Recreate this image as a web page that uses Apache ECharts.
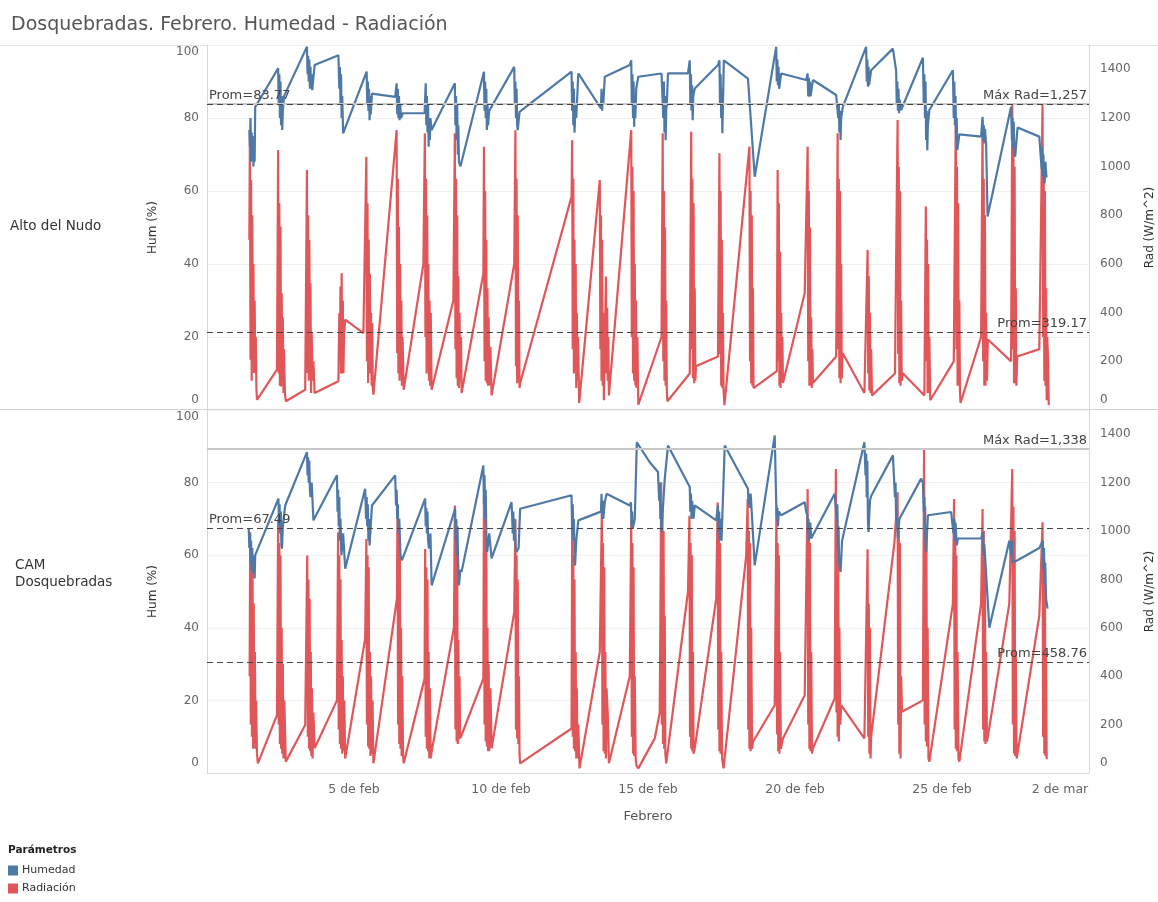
<!DOCTYPE html>
<html>
<head>
<meta charset="utf-8">
<script src="https://cdn.jsdelivr.net/npm/echarts@6/dist/echarts.min.js"></script>
<style>
html,body{margin:0;padding:0;background:#fff;}
#chart{width:1158px;height:902px;}
</style>
</head>
<body>
<div id="chart"></div>
<script>
// x values: days counted from 31 Jan 00:00 (1 = 1 Feb, 30 = 2 Mar)
const tickDays = [5, 10, 15, 20, 25, 30];
const tickNames = ['5 de feb', '10 de feb', '15 de feb', '20 de feb', '25 de feb', '2 de mar'];
const panels = ['Alto del Nudo', 'CAM\nDosquebradas'];

// Alto del Nudo - Radiación (W/m^2)
const altoRad = [
[1.44,700],[1.46,1137],[1.48,207],[1.50,945],[1.52,120],[1.54,800],[1.56,289],[1.58,600],[1.60,152],[1.62,450],[1.64,207],[1.66,300],[1.68,90],[1.70,42],
[2.38,166],[2.42,1068],[2.44,150],[2.46,850],[2.48,100],[2.50,754],[2.52,97],[2.54,480],[2.56,200],[2.58,380],[2.60,70],[2.62,250],[2.65,70],[2.68,36],
[3.34,83],[3.40,986],[3.42,152],[3.44,800],[3.46,120],[3.48,699],[3.50,300],[3.52,520],[3.54,70],[3.56,316],[3.59,120],[3.62,200],[3.66,70],
[4.47,118],[4.50,398],[4.52,200],[4.54,508],[4.56,150],[4.58,562],[4.60,150],[4.62,450],[4.64,152],[4.66,300],[4.70,371],
[5.32,316],[5.42,1041],[5.44,200],[5.46,850],[5.48,111],[5.50,700],[5.52,150],[5.54,560],[5.56,152],[5.58,400],[5.60,100],[5.62,357],[5.64,90],[5.66,63],
[6.45,1150],[6.47,234],[6.49,950],[6.51,150],[6.53,754],[6.55,120],[6.57,600],[6.59,152],[6.61,450],[6.63,100],[6.65,300],[6.67,200],[6.69,83],
[7.36,600],[7.41,1137],[7.43,300],[7.45,950],[7.47,150],[7.49,800],[7.51,180],[7.53,600],[7.55,120],[7.57,450],[7.59,100],[7.61,400],[7.64,83],
[8.38,450],[8.43,1137],[8.45,250],[8.47,950],[8.49,130],[8.51,800],[8.53,100],[8.55,550],[8.57,90],[8.59,400],[8.61,120],[8.64,300],[8.66,70],
[9.40,560],[9.42,1082],[9.44,200],[9.46,900],[9.48,120],[9.50,700],[9.52,110],[9.54,500],[9.56,100],[9.58,380],[9.60,100],[9.64,260],[9.68,60],
[10.45,600],[10.49,1150],[10.51,180],[10.53,950],[10.55,110],[10.57,800],[10.59,130],[10.61,450],[10.63,90],[10.65,110],
[12.40,877],[12.42,1109],[12.44,250],[12.46,950],[12.48,150],[12.50,700],[12.52,160],[12.54,600],[12.56,90],[12.58,400],[12.60,120],[12.62,300],[12.66,29],
[13.36,945],[13.38,250],[13.40,800],[13.42,120],[13.44,700],[13.46,100],[13.48,400],[13.50,40],
[13.57,549],[13.59,150],[13.61,420],[13.63,120],[13.65,300],[13.67,60],
[14.43,1150],[14.45,300],[14.47,1000],[14.49,150],[14.51,900],[14.53,120],[14.55,600],[14.57,100],[14.59,450],[14.61,90],[14.64,300],[14.67,22],
[15.46,300],[15.50,1137],[15.52,200],[15.54,900],[15.56,120],[15.58,750],[15.60,100],[15.62,450],[15.64,80],[15.66,36],
[16.42,150],[16.47,1143],[16.49,250],[16.51,950],[16.53,130],[16.55,850],[16.57,110],[16.59,500],[16.61,120],[16.63,180],
[17.38,220],[17.43,1055],[17.45,230],[17.47,900],[17.49,100],[17.51,700],[17.53,90],[17.55,400],[17.57,80],[17.60,20],
[18.45,1082],[18.47,200],[18.49,900],[18.51,110],[18.53,800],[18.55,100],[18.57,500],[18.59,90],[18.62,83],
[19.38,160],[19.41,986],[19.43,200],[19.45,850],[19.47,100],[19.49,650],[19.51,90],[19.53,400],[19.55,120],[19.57,300],[19.59,111],
[20.33,480],[20.43,1082],[20.45,200],[20.47,900],[20.49,100],[20.51,750],[20.53,100],[20.55,380],[20.57,90],[20.59,250],[20.61,111],
[21.40,220],[21.45,1137],[21.47,250],[21.49,950],[21.51,130],[21.53,900],[21.55,110],[21.57,600],[21.59,130],[21.62,234],
[22.36,70],[22.47,658],[22.49,150],[22.51,550],[22.53,80],[22.55,400],[22.57,70],[22.59,250],[22.62,60],
[23.40,150],[23.49,1192],[23.51,230],[23.53,1000],[23.55,110],[23.57,900],[23.59,100],[23.61,450],[23.63,120],[23.66,152],
[24.40,60],[24.45,836],[24.47,200],[24.49,700],[24.51,70],[24.53,600],[24.55,70],[24.57,300],[24.60,40],
[25.40,200],[25.47,1205],[25.49,250],[25.51,1000],[25.53,100],[25.55,850],[25.57,100],[25.59,450],[25.61,80],[25.63,29],
[26.33,300],[26.38,1192],[26.40,200],[26.42,950],[26.44,100],[26.46,800],[26.48,100],[26.50,400],[26.53,120],[26.56,290],
[27.35,200],[27.39,1257],[27.41,250],[27.43,1100],[27.45,110],[27.47,1000],[27.49,110],[27.51,500],[27.53,100],[27.56,220],
[28.31,250],[28.42,1257],[28.44,300],[28.46,1000],[28.48,120],[28.50,900],[28.52,100],[28.54,500],[28.56,40],[28.58,300],[28.61,200],[28.63,20]
];

// Alto del Nudo - Humedad (%)
const altoHum = [
[1.44,76.7],[1.46,72],[1.48,80],[1.50,68],[1.52,76],[1.54,70],[1.56,75],[1.58,66.7],[1.60,72],[1.62,68],[1.64,83],
[2.42,93.6],[2.44,84],[2.46,92],[2.48,80],[2.50,90],[2.52,78],[2.54,86],[2.56,76.7],[2.58,82],[2.62,86],
[3.40,99.5],[3.42,92],[3.44,97],[3.46,90],[3.48,96],[3.50,88],[3.52,94],[3.54,88],[3.56,92],[3.58,87.6],[3.66,94.5],
[4.47,97.2],[4.50,88],[4.52,94],[4.54,84],[4.56,92],[4.58,80],[4.60,86],[4.63,75.8],
[5.43,92.7],[5.45,84],[5.47,90],[5.49,82],[5.51,88],[5.53,79.4],[5.55,86],[5.57,81],[5.61,86.7],
[6.40,85.8],[6.45,89.5],[6.47,81],[6.49,88],[6.51,80],[6.53,86],[6.55,79.4],[6.57,84],[6.60,80],[6.66,81.3],
[7.40,81.3],[7.44,89.5],[7.46,78],[7.48,86],[7.50,76],[7.52,84],[7.54,72.1],[7.56,80],[7.58,74],[7.60,80],[7.64,76.7],
[8.43,89.5],[8.45,78],[8.47,86],[8.49,74],[8.51,84],[8.53,70],[8.55,78],[8.57,68],[8.62,66.7],
[9.42,92.7],[9.44,82],[9.46,90],[9.48,80],[9.50,88],[9.52,76.7],[9.54,84],[9.56,78],[9.60,82],
[10.45,94.0],[10.47,84],[10.49,90],[10.51,80],[10.53,88],[10.55,78],[10.57,76.7],[10.63,81.7],
[12.40,92.7],[12.42,82],[12.44,90],[12.46,78],[12.48,88],[12.50,76],[12.52,75.8],[12.54,84],[12.56,80],[12.63,92.2],
[13.40,82.6],[13.42,88],[13.44,82],[13.46,86],[13.48,84],[13.53,91.3],
[14.38,94.5],[14.43,95.8],[14.45,84],[14.47,92],[14.49,80],[14.51,90],[14.53,77.6],[14.55,86],[14.57,80],[14.60,88],[14.67,91.3],
[15.46,92.2],[15.50,92.2],[15.52,80],[15.54,90],[15.56,76],[15.58,86],[15.60,73.9],[15.62,82],[15.64,84],[15.68,92.2],
[16.36,92.2],[16.42,95.8],[16.44,84],[16.46,92],[16.48,82],[16.50,89],[16.52,79.4],[16.54,86],[16.59,88.1],
[17.38,94.5],[17.43,95.8],[17.45,84],[17.47,92],[17.49,80],[17.51,88],[17.53,75.8],[17.55,84],[17.58,95.8],
[18.40,90.8],[18.63,63.9],
[19.36,99.5],[19.38,90],[19.40,96],[19.42,89],[19.44,94],[19.46,88],[19.48,87.6],[19.53,92.2],
[20.38,90.4],[20.43,92.2],[20.45,86],[20.47,91],[20.49,85.8],[20.51,90],[20.53,86],[20.61,90.4],
[21.40,86.3],[21.45,85.8],[21.47,80],[21.49,84],[21.51,76],[21.53,82],[21.55,74.0],[21.57,80],[21.63,83.1],
[22.42,99.5],[22.44,90],[22.46,96],[22.48,88.6],[22.50,94],[22.52,89],[22.59,93.1],
[23.33,99.0],[23.44,93],[23.46,84],[23.48,90],[23.50,82],[23.52,88],[23.54,81.3],[23.56,85],[23.61,82.2],
[24.35,96.5],[24.38,84],[24.40,92],[24.42,80],[24.44,90],[24.46,74],[24.48,82],[24.50,71.2],[24.52,78],[24.57,82.2],
[25.37,93.1],[25.40,80],[25.42,90],[25.44,78],[25.46,86],[25.48,74],[25.50,80],[25.52,71.2],[25.59,75.5],
[26.33,74.9],[26.38,80.3],[26.40,74],[26.42,78],[26.44,73],[26.46,77],[26.50,73],[26.55,53.0],
[27.35,83.1],[27.38,74],[27.40,80],[27.42,72],[27.44,79],[27.46,70],[27.49,69.4],[27.57,77.4],
[28.31,74.9],[28.37,75.0],[28.39,66],[28.41,72],[28.43,64],[28.45,70],[28.47,63],[28.49,62.1],[28.52,68],[28.55,64],[28.59,64]
];

// CAM Dosquebradas - Radiación (W/m^2)
const camRad = [
[1.45,400],[1.47,995],[1.49,200],[1.51,900],[1.53,150],[1.55,830],[1.57,100],[1.59,700],[1.61,120],[1.63,500],[1.65,100],[1.67,300],[1.70,80],[1.73,40],
[2.38,239],[2.42,1049],[2.44,200],[2.46,950],[2.48,120],[2.50,900],[2.52,100],[2.54,600],[2.56,80],[2.58,450],[2.60,60],[2.63,300],[2.68,47],
[3.34,198],[3.41,899],[3.43,150],[3.45,800],[3.47,100],[3.49,720],[3.51,90],[3.53,500],[3.55,70],[3.57,350],[3.59,60],[3.62,250],[3.66,102],
[4.42,300],[4.46,995],[4.48,180],[4.50,900],[4.52,120],[4.54,800],[4.56,100],[4.58,550],[4.60,80],[4.62,400],[4.64,90],[4.67,300],[4.70,60],
[5.38,555],[5.42,967],[5.44,200],[5.46,900],[5.48,110],[5.50,850],[5.52,100],[5.54,500],[5.56,70],[5.58,400],[5.60,80],[5.63,300],[5.66,40],
[6.46,720],[6.48,1105],[6.50,200],[6.52,1000],[6.54,120],[6.56,900],[6.58,100],[6.60,600],[6.62,70],[6.64,400],[6.67,70],[6.69,40],
[7.40,390],[7.42,926],[7.44,150],[7.46,850],[7.48,100],[7.50,800],[7.52,90],[7.54,500],[7.56,60],[7.58,350],[7.61,60],[7.64,88],
[8.40,600],[8.43,1105],[8.45,180],[8.47,1000],[8.49,130],[8.51,900],[8.53,120],[8.55,550],[8.57,140],[8.59,400],[8.61,143],[8.66,157],
[9.40,390],[9.42,1146],[9.44,200],[9.46,1000],[9.48,130],[9.50,950],[9.52,110],[9.54,600],[9.56,90],[9.58,450],[9.60,90],[9.64,350],[9.68,102],
[10.45,665],[10.49,1049],[10.51,180],[10.53,900],[10.55,143],[10.57,800],[10.59,120],[10.61,400],[10.63,80],[10.65,40],
[12.40,184],[12.42,995],[12.44,150],[12.46,900],[12.48,100],[12.50,800],[12.52,90],[12.54,500],[12.56,60],[12.58,350],[12.60,60],[12.63,200],[12.67,19],
[13.36,500],[13.43,1077],[13.45,200],[13.47,950],[13.49,90],[13.51,850],[13.53,80],[13.55,500],[13.57,60],[13.59,350],[13.63,250],[13.67,40],
[14.38,400],[14.43,1049],[14.45,150],[14.47,950],[14.49,80],[14.51,850],[14.53,70],[14.55,400],[14.58,60],[14.61,30],[14.67,19],
[15.23,143],[15.40,250],[15.45,1201],[15.47,200],[15.49,1100],[15.51,120],[15.53,1000],[15.55,100],[15.57,650],[15.59,80],[15.62,40],
[16.36,750],[16.41,1063],[16.43,150],[16.45,950],[16.47,100],[16.49,900],[16.51,90],[16.53,500],[16.55,80],[16.59,102],
[17.32,720],[17.37,1118],[17.39,180],[17.41,1000],[17.43,90],[17.45,950],[17.47,80],[17.49,500],[17.52,60],[17.57,19],
[18.34,899],[18.39,1132],[18.41,180],[18.43,1000],[18.45,100],[18.47,950],[18.49,90],[18.51,600],[18.54,100],[18.57,129],
[19.31,280],[19.37,1105],[19.39,160],[19.41,950],[19.43,90],[19.45,900],[19.47,80],[19.49,500],[19.52,100],[19.59,143],
[20.33,321],[20.43,1173],[20.45,200],[20.47,1000],[20.49,100],[20.51,950],[20.53,90],[20.55,500],[20.58,80],[20.61,102],
[21.35,308],[21.39,1256],[21.41,250],[21.43,1100],[21.45,150],[21.47,1000],[21.49,130],[21.51,600],[21.54,200],[21.57,280],
[22.36,143],[22.47,925],[22.49,150],[22.51,700],[22.53,80],[22.55,600],[22.57,60],[22.59,150],
[23.38,950],[23.49,1160],[23.51,200],[23.53,1000],[23.55,80],[23.57,950],[23.59,60],[23.61,400],[23.64,253],
[24.35,300],[24.39,1338],[24.41,200],[24.43,1100],[24.45,130],[24.47,1000],[24.49,110],[24.51,600],[24.54,60],[24.57,47],
[25.37,700],[25.41,1132],[25.43,180],[25.45,1000],[25.47,100],[25.49,900],[25.51,90],[25.53,500],[25.56,60],[25.59,47],
[26.33,700],[26.38,1091],[26.40,180],[26.42,1000],[26.44,130],[26.46,900],[26.48,120],[26.50,500],[26.53,130],[26.55,143],
[27.29,700],[27.39,1256],[27.41,200],[27.43,1100],[27.45,80],[27.47,1000],[27.49,70],[27.51,500],[27.54,60],[27.57,60],
[28.31,650],[28.42,1036],[28.44,150],[28.46,900],[28.48,80],[28.50,800],[28.52,70],[28.54,500],[28.56,60],[28.59,60]
];

// CAM Dosquebradas - Humedad (%)
const camHum = [
[1.42,67.3],[1.44,62],[1.46,66],[1.48,58],[1.50,64],[1.52,56],[1.54,62],[1.56,55],[1.58,60],[1.62,53.6],[1.64,60.0],
[2.43,75.6],[2.45,68],[2.47,74],[2.49,66],[2.51,72],[2.53,63],[2.55,61.8],[2.58,68],[2.66,73.7],
[3.40,88.4],[3.42,82],[3.44,87],[3.46,80],[3.48,86],[3.50,78],[3.52,76],[3.56,80],[3.62,69.6],
[4.42,82.0],[4.44,72],[4.46,78],[4.48,68],[4.50,76],[4.52,64],[4.54,70],[4.57,60],[4.63,66],[4.70,56.3],
[5.38,78.3],[5.41,70],[5.43,76],[5.45,68],[5.47,74],[5.49,64],[5.51,70],[5.53,62.7],[5.61,73.7],
[6.40,82.0],[6.43,73.7],[6.45,78],[6.47,70],[6.49,74],[6.51,66],[6.54,70],[6.58,60],[6.63,58.6],
[7.42,75.6],[7.44,68],[7.46,73],[7.48,66],[7.50,72],[7.52,64],[7.55,61.8],[7.60,66],[7.64,51.7],
[8.44,72.8],[8.46,64],[8.48,70],[8.50,60],[8.52,68],[8.54,58],[8.57,51.7],[8.62,56],[8.66,55.4],
[9.40,84.7],[9.42,74],[9.44,82],[9.46,70],[9.48,78],[9.50,66],[9.53,60.9],[9.60,66],[9.68,59.1],
[10.36,74.6],[10.40,66],[10.42,72],[10.44,64],[10.46,70],[10.50,62],[10.53,60.9],[10.60,62],[10.65,72.8],
[12.40,76.5],[12.42,66],[12.44,74],[12.46,64],[12.48,70],[12.50,60],[12.52,57.2],[12.56,64],[12.63,69.6],
[13.40,72],[13.42,76.9],[13.44,70],[13.46,75],[13.48,70],[13.53,74.6],[13.59,76.9],
[14.38,73.7],[14.42,74.6],[14.44,68],[14.46,72],[14.48,67.3],[14.55,70],[14.62,91.1],
[15.06,85.6],[15.34,82.9],[15.38,75],[15.40,80],[15.42,70],[15.44,74],[15.46,66.4],[15.50,72],[15.57,81.1],[15.68,90.2],
[16.42,78.8],[16.44,72],[16.46,77],[16.48,70],[16.50,75],[16.55,70.1],[16.59,73.7],
[17.32,69.6],[17.38,73.7],[17.40,66],[17.42,72],[17.44,64],[17.46,70],[17.50,64],[17.61,90.2],
[18.34,79.2],[18.40,78.3],[18.42,74],[18.44,77],[18.46,73],[18.49,77],[18.51,74.6],[18.63,57.2],
[19.31,93.0],[19.36,74.6],[19.38,70],[19.40,73],[19.42,68],[19.45,72],[19.53,71.0],
[20.33,74.6],[20.38,72],[20.42,71.0],[20.44,66],[20.46,70],[20.48,64],[20.52,69],[20.55,64.6],
[21.35,76.9],[21.40,77.4],[21.42,70],[21.44,74],[21.46,62],[21.48,68],[21.50,58],[21.55,55.4],[21.60,64],
[22.36,91.1],[22.40,82],[22.42,88],[22.44,76],[22.46,86],[22.48,70],[22.50,66.4],[22.55,75],[22.59,76.3],
[23.33,87.5],[23.38,87.5],[23.40,76],[23.42,80],[23.44,70],[23.46,72],[23.50,64.6],[23.55,70],
[24.29,81.1],[24.35,80],[24.38,72],[24.40,76],[24.43,66],[24.46,60.9],[24.52,71.0],
[25.31,71.9],[25.37,71.9],[25.39,66],[25.42,70],[25.44,64],[25.46,69],[25.50,62.7],[25.54,64.6],
[26.33,64.6],[26.39,66.4],[26.42,60],[26.44,63],[26.61,40.0],
[27.29,64.0],[27.35,60],[27.38,64],[27.40,58],[27.57,58.6],
[28.31,62.0],[28.43,64.0],[28.45,56],[28.47,62],[28.49,52],[28.51,58],[28.54,48],[28.59,45.3]
];

// reference lines (values as labelled in the picture)
const altoHumProm = 83.77, altoRadMax = 1257, altoRadProm = 319.17;
const camHumProm = 67.49, camRadMax = 1338, camRadProm = 458.76;

const BLUE = '#4e79a7', RED = '#e15759';
const FONT = 'DejaVu Sans, Verdana, sans-serif';

function leftFmt(v) {
  if (v === 100) return '{t|100}';
  if (v === 0) return '{b|0}';
  return String(v);
}
function rightFmt(v) {
  if (v > 1400) return '';
  if (v === 0) return '{b|0}';
  return String(v);
}
const yRich = {
  t: {padding: [14, 0, 0, 0], color: '#666', fontSize: 12, fontFamily: FONT},
  b: {padding: [0, 0, 20, 0], color: '#666', fontSize: 12, fontFamily: FONT}
};

function yLeft(grid) {
  return {
    type: 'value', gridIndex: grid, position: 'left', min: 0, max: 100, interval: 20,
    name: 'Hum (%)', nameLocation: 'middle', nameRotate: 90, nameGap: 48,
    nameTextStyle: {color: '#333', fontSize: 12, fontFamily: FONT},
    axisLine: {show: true, lineStyle: {color: '#d9d9d9'}},
    axisTick: {show: false},
    axisLabel: {color: '#666', fontSize: 12, fontFamily: FONT, margin: 8, formatter: leftFmt, rich: yRich},
    splitLine: {show: true, lineStyle: {color: '#f0f0f0'}}
  };
}
function yRight(grid) {
  return {
    type: 'value', gridIndex: grid, position: 'right', min: 0, max: 1500, interval: 200,
    name: 'Rad (W/m^2)', nameLocation: 'middle', nameRotate: 90, nameGap: 55,
    nameTextStyle: {color: '#333', fontSize: 12, fontFamily: FONT},
    axisLine: {show: true, lineStyle: {color: '#d9d9d9'}},
    axisTick: {show: false},
    axisLabel: {color: '#666', fontSize: 12, fontFamily: FONT, margin: 11, formatter: rightFmt, rich: yRich},
    splitLine: {show: false}
  };
}

function refLine(value, text, pos, style) {
  return {
    yAxis: value,
    lineStyle: style,
    label: {show: true, formatter: text, position: pos, color: '#444', fontSize: 13, fontFamily: FONT, distance: 2}
  };
}
const dashed = {type: [6, 4], color: '#444', width: 1};
const maxStyle = {type: 'solid', color: '#c8c8c8', width: 2};

function lineSeries(name, data, xi, yi, color, z, marks) {
  return {
    name: name, type: 'line', xAxisIndex: xi, yAxisIndex: yi, data: data,
    showSymbol: false, symbol: 'none', z: z,
    lineStyle: {color: color, width: 2.2},
    itemStyle: {color: color},
    markLine: {silent: true, symbol: 'none', data: marks, animation: false}
  };
}

const chart = echarts.init(document.getElementById('chart'), null, {renderer: 'canvas'});
chart.setOption({
  animation: false,
  backgroundColor: '#fff',
  title: {
    text: 'Dosquebradas. Febrero. Humedad - Radiación', left: 6, top: 11,
    textStyle: {fontSize: 19, fontWeight: 'normal', color: '#555', fontFamily: FONT}
  },
  legend: {
    data: ['Humedad', 'Radiación'], orient: 'vertical', left: 8, top: 865, padding: 0,
    itemWidth: 10, itemHeight: 10, itemGap: 7, icon: 'rect',
    textStyle: {fontSize: 11, color: '#333', fontFamily: FONT, padding: [0, 0, 0, -1]}
  },
  grid: [
    {left: 207, top: 45, width: 882, height: 365, containLabel: false, outerBoundsMode: 'none'},
    {left: 207, top: 410, width: 882, height: 363, containLabel: false, outerBoundsMode: 'none'}
  ],
  xAxis: [
    {type: 'value', gridIndex: 0, min: 0, max: 30, interval: 5,
     axisLine: {show: false}, axisTick: {show: false}, axisLabel: {show: false}, splitLine: {show: false}},
    {type: 'value', gridIndex: 1, min: 0, max: 30, interval: 5,
     name: 'Febrero', nameLocation: 'middle', nameGap: 37,
     nameTextStyle: {color: '#555', fontSize: 13, fontFamily: FONT},
     axisLine: {show: true, lineStyle: {color: '#d9d9d9'}}, axisTick: {show: false}, splitLine: {show: false},
     axisLabel: {
       color: '#666', fontSize: 12.5, fontFamily: FONT, margin: 10,
       formatter: function (v) {
         const i = tickDays.indexOf(v);
         if (i < 0) return '';
         return i === tickDays.length - 1 ? '{m|' + tickNames[i] + '}' : tickNames[i];
       },
       rich: {m: {padding: [0, 58, 0, 0], color: '#666', fontSize: 12.5, fontFamily: FONT}}
     }}
  ],
  yAxis: [yLeft(0), yRight(0), yLeft(1), yRight(1)],
  graphic: [
    {type: 'line', shape: {x1: 0, y1: 45.5, x2: 1158, y2: 45.5}, style: {stroke: '#e4e4e4', lineWidth: 1}, z: 0},
    {type: 'line', shape: {x1: 0, y1: 409.5, x2: 1158, y2: 409.5}, style: {stroke: '#d4d4d4', lineWidth: 1}, z: 0},
    {type: 'text', left: 10, top: 219, style: {text: panels[0], fontSize: 13.5, fill: '#333', fontFamily: FONT}},
    {type: 'text', left: 15, top: 557, style: {text: panels[1], fontSize: 13.5, fill: '#333', fontFamily: FONT, lineHeight: 17}},
    {type: 'text', left: 8, top: 845, style: {text: 'Parámetros', fontSize: 10.5, fontWeight: 'bold', fill: '#222', fontFamily: FONT}}
  ],
  series: [
    lineSeries('Radiación', altoRad, 0, 1, RED, 2, [
      refLine(altoRadMax, 'Máx Rad=1,257', 'insideEndTop', maxStyle),
      refLine(altoRadProm, 'Prom=319.17', 'insideEndTop', dashed)
    ]),
    lineSeries('Humedad', altoHum, 0, 0, BLUE, 3, [
      refLine(altoHumProm, 'Prom=83.77', 'insideStartTop', dashed)
    ]),
    lineSeries('Radiación', camRad, 1, 3, RED, 2, [
      refLine(camRadMax, 'Máx Rad=1,338', 'insideEndTop', maxStyle),
      refLine(camRadProm, 'Prom=458.76', 'insideEndTop', dashed)
    ]),
    lineSeries('Humedad', camHum, 1, 2, BLUE, 3, [
      refLine(camHumProm, 'Prom=67.49', 'insideStartTop', dashed)
    ])
  ]
});
</script>
</body>
</html>
